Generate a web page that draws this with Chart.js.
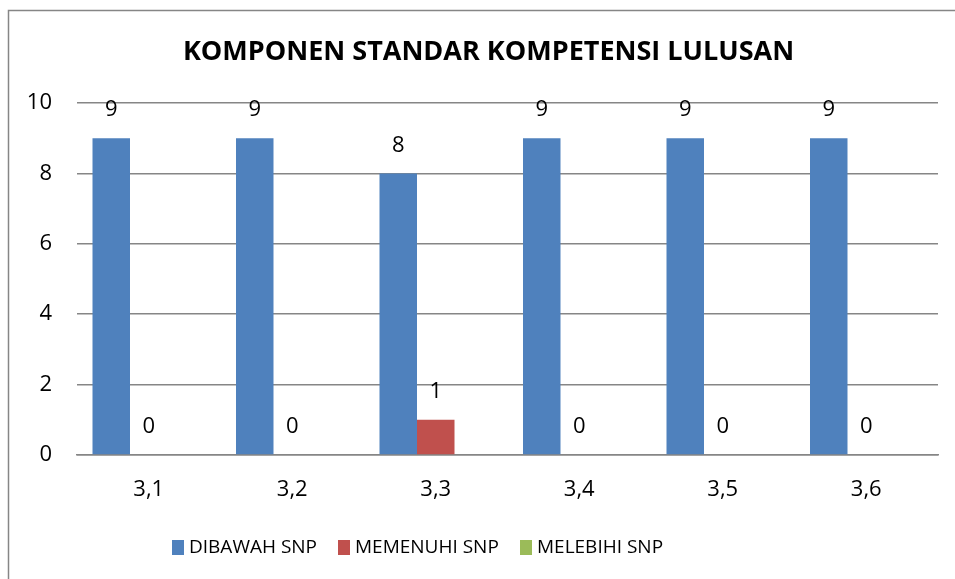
<!DOCTYPE html>
<html>
<head>
<meta charset="utf-8">
<script src="https://cdn.jsdelivr.net/npm/chart.js@4/dist/chart.umd.min.js"></script>
<style>
  html, body { margin: 0; padding: 0; background: #fff; }
  #wrap { position: relative; width: 955px; height: 579px; }
</style>
</head>
<body>
<div id="wrap"><canvas id="c" width="955" height="579"></canvas></div>
<script>
const titleText = 'KOMPONEN STANDAR KOMPETENSI LULUSAN';
const categories = ['3,1', '3,2', '3,3', '3,4', '3,5', '3,6'];
const dibawahSNP = [9, 9, 8, 9, 9, 9];
const memenuhiSNP = [0, 0, 1, 0, 0, 0];
const melebihiSNP = [null, null, null, null, null, null];
const yTicks = { min: 0, max: 10, step: 2 };

const FONT = "'Open Sans', 'Liberation Sans', sans-serif";

const framePlugin = {
  id: 'frame',
  beforeDraw(chart) {
    const ctx = chart.ctx;
    ctx.save();
    ctx.strokeStyle = '#868686';
    ctx.lineWidth = 1.5;
    ctx.beginPath();
    ctx.moveTo(8.5, 579);
    ctx.lineTo(8.5, 10.5);
    ctx.lineTo(955, 10.5);
    ctx.stroke();
    ctx.restore();
  }
};

const titlePlugin = {
  id: 'customTitle',
  afterDraw(chart) {
    const ctx = chart.ctx;
    ctx.save();
    ctx.font = 'bold 27px ' + FONT;
    ctx.fillStyle = '#000';
    ctx.textAlign = 'center';
    ctx.textBaseline = 'middle';
    ctx.fillText(titleText, 488.5, 52);
    ctx.restore();
  }
};

const dataLabelPlugin = {
  id: 'dataLabels',
  afterDatasetsDraw(chart) {
    const ctx = chart.ctx;
    ctx.save();
    ctx.font = '22px ' + FONT;
    ctx.fillStyle = '#000';
    ctx.textAlign = 'center';
    ctx.textBaseline = 'middle';
    chart.data.datasets.forEach((ds, di) => {
      const meta = chart.getDatasetMeta(di);
      if (meta.hidden) return;
      meta.data.forEach((el, i) => {
        const v = ds.data[i];
        if (v === null || v === undefined) return;
        ctx.fillText(String(v), el.x, el.y - 28);
      });
    });
    ctx.restore();
  }
};

const legendPlugin = {
  id: 'customLegend',
  afterDraw(chart) {
    const ctx = chart.ctx;
    const starts = [172, 338, 520];
    const cy = 547;
    ctx.save();
    ctx.font = '19px ' + FONT;
    ctx.fillStyle = '#000';
    ctx.textAlign = 'left';
    ctx.textBaseline = 'middle';
    chart.data.datasets.forEach((ds, di) => {
      const x = starts[di];
      ctx.fillStyle = ds.backgroundColor;
      ctx.fillRect(x, cy - 7, 12, 15);
      ctx.fillStyle = '#000';
      ctx.fillText(ds.label, x + 17, cy + 1);
    });
    ctx.restore();
  }
};

new Chart(document.getElementById('c'), {
  type: 'bar',
  data: {
    labels: categories,
    datasets: [
      { label: 'DIBAWAH SNP', data: dibawahSNP, backgroundColor: '#4F81BD' },
      { label: 'MEMENUHI SNP', data: memenuhiSNP, backgroundColor: '#C0504D' },
      { label: 'MELEBIHI SNP', data: melebihiSNP, backgroundColor: '#9BBB59' }
    ]
  },
  options: {
    responsive: false,
    animation: false,
    events: [],
    datasets: { bar: { categoryPercentage: 0.784, barPercentage: 1.0 } },
    layout: { padding: { left: 0, right: 17, top: 103, bottom: 64 } },
    plugins: {
      legend: { display: false },
      tooltip: { enabled: false },
      title: { display: false }
    },
    scales: {
      x: {
        grid: { display: true, drawOnChartArea: false, drawTicks: false },
        border: { display: true, color: '#868686', width: 1.5 },
        ticks: { color: '#000', font: { family: FONT, size: 22 }, padding: 22 },
        afterFit(scale) { scale.height = 60; }
      },
      y: {
        min: yTicks.min,
        max: yTicks.max,
        grid: { color: '#868686', lineWidth: 1.5, drawTicks: false },
        border: { display: false },
        ticks: { stepSize: yTicks.step, color: '#000', font: { family: FONT, size: 22 }, padding: 25 },
        afterFit(scale) { scale.width = 77; }
      }
    }
  },
  plugins: [framePlugin, dataLabelPlugin, legendPlugin, titlePlugin]
});
</script>
</body>
</html>
